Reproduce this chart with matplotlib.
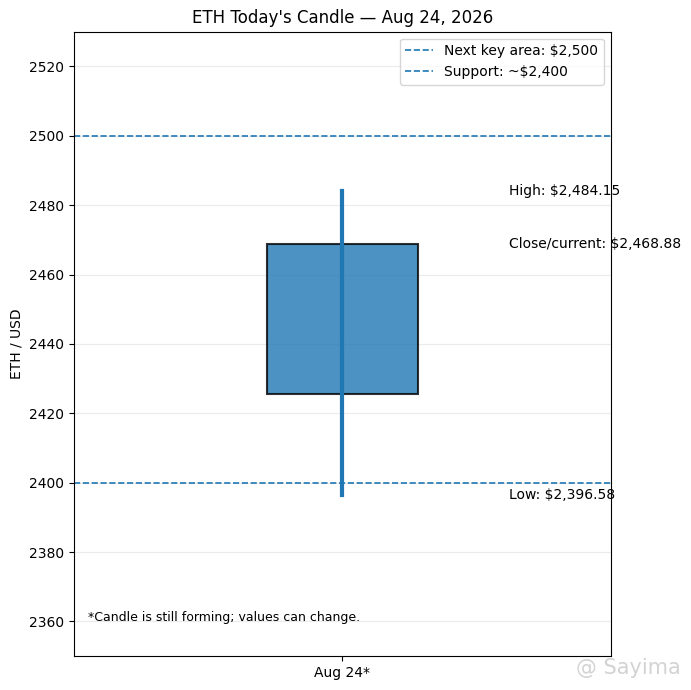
import matplotlib
matplotlib.use("Agg")
import matplotlib.pyplot as plt

# candle data
day_label = "Aug 24*"
open_px = 2425.7
close_px = 2468.88
high_px = 2484.15
low_px = 2396.58

key_area = 2500
support = 2400

fig, ax = plt.subplots(figsize=(6.91, 6.90), dpi=100)
fig.subplots_adjust(left=0.107, right=0.884, top=0.954, bottom=0.049)

x = 0
body_w = 0.56

# body then wick on top
ax.bar(x, close_px - open_px, bottom=open_px, width=body_w, color="tab:blue",
       alpha=0.8, edgecolor="black", linewidth=1.5, zorder=2)
ax.vlines(x, low_px, high_px, color="tab:blue", linewidth=3, zorder=3,
          capstyle="projecting")

ax.axhline(key_area, color="tab:blue", linestyle="--", linewidth=1.2,
           label="Next key area: $2,500")
ax.axhline(support, color="tab:blue", linestyle="--", linewidth=1.2,
           label="Support: ~$2,400")

tx = 0.622
ax.text(tx, high_px, f"High: ${high_px:,.2f}", va="center", fontsize=10)
ax.text(tx, close_px, f"Close/current: ${close_px:,.2f}", va="center", fontsize=10)
ax.text(tx, low_px, f"Low: ${low_px:,.2f}", va="center", fontsize=10)

ax.text(0.026, 0.056, "*Candle is still forming; values can change.",
        transform=ax.transAxes, fontsize=9)

ax.set_xlim(-1, 1)
ax.set_ylim(2350, 2530)
ax.set_xticks([x])
ax.set_xticklabels([day_label])
ax.set_ylabel("ETH / USD")
ax.set_title("ETH Today's Candle — Aug 24, 2026")
ax.grid(axis="y", alpha=0.25)
ax.set_axisbelow(True)
ax.legend(loc="upper right")

# watermark
fig.text(0.985, 0.018, "@ Sayima", ha="right", va="bottom", fontsize=15,
         color="#c8c8c8", alpha=0.8)

fig.savefig("out.png", dpi=100)
